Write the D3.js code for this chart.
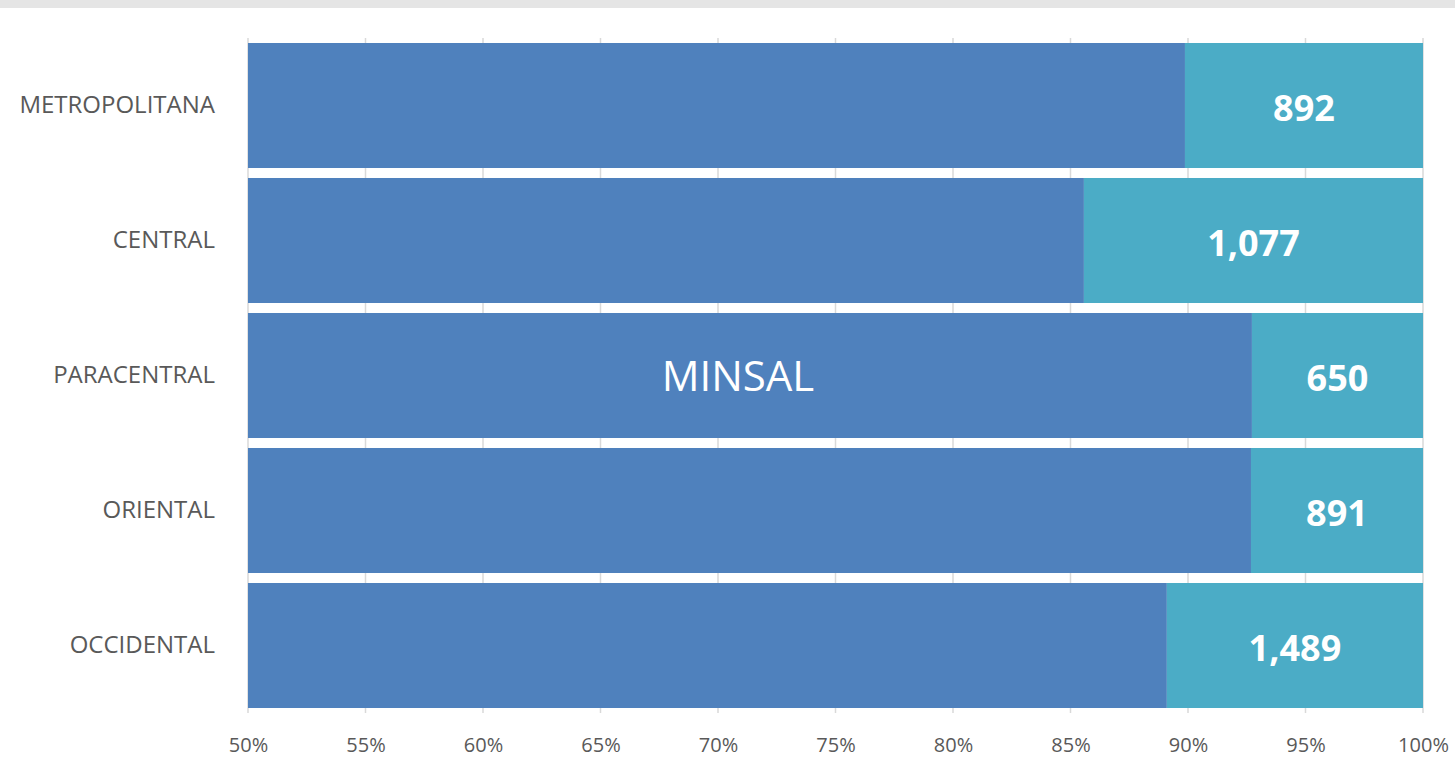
<!DOCTYPE html>
<html>
<head>
  <meta charset="utf-8">
  <script src="https://d3js.org/d3.v7.min.js"></script>
  <style>
  body {
    margin: 0;
    background: #fff;
    font-family: "Open Sans", "Noto Sans", sans-serif;
  }
  .topband {
    fill: #e5e5e5;
  }
  .grid line {
    stroke: #d9d9d9;
    stroke-width: 1.5px;
  }
  .x.axis text {
    fill: #595959;
    font-size: 20px;
    font-family: "Open Sans", sans-serif;
  }
  .y.axis text {
    fill: #595959;
    font-size: 24px;
    font-family: "Open Sans", sans-serif;
  }
  .val {
    fill: #fff;
    font-weight: bold;
    font-size: 36px;
  }
  .serie_name {
    fill: #fff;
    font-size: 42px;
  }
  </style>
</head>
<body>
<script>
// regiones, de arriba hacia abajo
var regiones = ['METROPOLITANA', 'CENTRAL', 'PARACENTRAL', 'ORIENTAL', 'OCCIDENTAL'];
// MINSAL (estimado desde la proporcion de la barra)
var minsal = [7914, 6387, 8279, 11281, 12172];
// otros (etiquetas visibles)
var otros = [892, 1077, 650, 891, 1489];
var ticks_x = [0.50, 0.55, 0.60, 0.65, 0.70, 0.75, 0.80, 0.85, 0.90, 0.95, 1.00];
var pos_etiqueta_minsal = 0.7085; // posicion de la etiqueta "MINSAL" en la barra PARACENTRAL

var W = 1455, H = 770;
var m_left = 248, m_right = 1423, m_top = 38, m_bottom = 713;

var svg = d3.select('body').append('svg')
  .attr('width', W)
  .attr('height', H);

svg.append('rect')
  .attr('class', 'topband')
  .attr('x', 0).attr('y', 0)
  .attr('width', W).attr('height', 8);

var data = regiones.map(function(r, i) {
  return {region: r, minsal: minsal[i], otros: otros[i]};
});

var series = d3.stack()
  .keys(['minsal', 'otros'])
  .offset(d3.stackOffsetExpand)(data);

var x = d3.scaleLinear()
  .domain([0.5, 1])
  .range([m_left, m_right]);

var y = d3.scaleBand()
  .domain(regiones)
  .range([m_top, m_bottom])
  .paddingInner(0.074)
  .paddingOuter(0.037);

// lineas de cuadricula
svg.append('g')
  .attr('class', 'grid')
  .selectAll('line')
  .data(ticks_x)
  .enter().append('line')
    .attr('x1', function(d) { return x(d); })
    .attr('x2', function(d) { return x(d); })
    .attr('y1', m_top)
    .attr('y2', m_bottom);

var colores = {minsal: '#4f81bd', otros: '#4bacc6'};

var capas = svg.append('g')
  .selectAll('g')
  .data(series)
  .enter().append('g')
    .attr('fill', function(s) { return colores[s.key]; });

capas.selectAll('rect')
  .data(function(s) { return s; })
  .enter().append('rect')
    .attr('x', function(d) { return x(Math.max(d[0], 0.5)); })
    .attr('y', function(d) { return y(d.data.region); })
    .attr('width', function(d) { return x(d[1]) - x(Math.max(d[0], 0.5)); })
    .attr('height', y.bandwidth());

// etiquetas de valores (otros)
svg.append('g')
  .selectAll('text')
  .data(series[1])
  .enter().append('text')
    .attr('class', 'val')
    .attr('x', function(d) { return (x(d[0]) + x(d[1])) / 2; })
    .attr('y', function(d) { return y(d.data.region) + y.bandwidth() / 2; })
    .attr('text-anchor', 'middle')
    .attr('dy', '0.42em')
    .text(function(d) { return d3.format(',')(d.data.otros); });

// nombre de la serie
svg.append('text')
  .attr('class', 'serie_name')
  .attr('x', x(pos_etiqueta_minsal))
  .attr('y', y('PARACENTRAL') + y.bandwidth() / 2)
  .attr('text-anchor', 'middle')
  .attr('dy', '0.38em')
  .text('MINSAL');

// eje x
var x_axis = d3.axisBottom(x)
  .tickValues(ticks_x)
  .tickFormat(d3.format('.0%'))
  .tickSize(0)
  .tickPadding(25);

var gx = svg.append('g')
  .attr('class', 'x axis')
  .attr('transform', 'translate(0,' + m_bottom + ')')
  .call(x_axis);
gx.select('.domain').remove();

// eje y
var y_axis = d3.axisLeft(y)
  .tickSize(0)
  .tickPadding(33);

var gy = svg.append('g')
  .attr('class', 'y axis')
  .attr('transform', 'translate(' + m_left + ',0)')
  .call(y_axis);
gy.select('.domain').remove();
</script>
</body>
</html>
